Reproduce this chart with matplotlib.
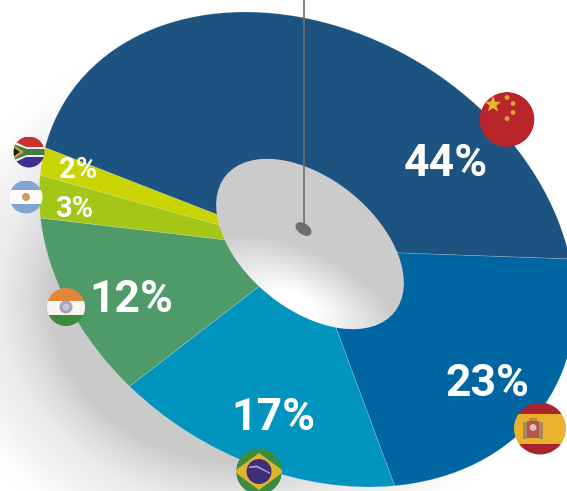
"""Tilted donut-style pie of market share by country, with flag markers."""

import matplotlib

matplotlib.use("Agg")
import matplotlib.pyplot as plt
import numpy as np
from matplotlib.patches import Circle, Ellipse, Polygon, Rectangle
from matplotlib.transforms import Affine2D

WIDTH, HEIGHT = 567, 491

countries = ["Spain", "Brazil", "India", "Argentina", "South Africa", "China"]
shares = [23, 17, 12, 3, 2, 44]
colors = ["#0066a1", "#0094bf", "#4f9a69", "#a3c617", "#c9d400", "#1d5380"]
share_labels = ["23%", "17%", "12%", "3%", "2%", "44%"]

PIE_CENTER = (307, 249.5)
PIE_AXES = (284, 218)
TILT = 31.2
START_ANGLE = -36


def draw_shadow(ax):
    """Soft grey shadow falling to the lower left of the disc."""
    xx, yy = np.meshgrid(np.arange(WIDTH) + 0.5, np.arange(HEIGHT) + 0.5)
    dist = np.hypot((xx - 240) / 250, (yy - 300) / 215)
    grey = np.interp(dist, [0.75, 0.85, 0.96, 1.05, 1.2, 1.3], [0.79, 0.86, 0.92, 0.94, 0.99, 1.0])
    ax.imshow(grey, cmap="gray", vmin=0, vmax=1, extent=(0, WIDTH, HEIGHT, 0),
              aspect="auto", zorder=0)


def draw_hole(ax):
    """Centre ellipse with a white highlight along its lower edge."""
    hole = Ellipse((310, 244), 217, 131, angle=39, facecolor="none", edgecolor="none", zorder=3)
    ax.add_patch(hole)
    xx, yy = np.meshgrid(np.arange(200, 420) + 0.5, np.arange(150, 340) + 0.5)
    turn = np.radians(25)
    along = (xx - 295) * np.cos(turn) + (yy - 305) * np.sin(turn)
    across = (yy - 305) * np.cos(turn) - (xx - 295) * np.sin(turn)
    dist = np.hypot(along / 115, across / 55)
    grey = 1 - 0.2 * np.clip((dist - 0.2) / 0.8, 0, 1)
    image = ax.imshow(grey, cmap="gray", vmin=0, vmax=1, extent=(200, 420, 340, 150),
                      aspect="auto", zorder=3)
    image.set_clip_path(hole)


def flag_parts(ax, center, radius, parts):
    """Add patches clipped to a round flag of the given radius."""
    disc = Circle(center, radius, facecolor="none", edgecolor="none", zorder=6)
    ax.add_patch(disc)
    for part in parts:
        part.set_zorder(6)
        part.set_linewidth(0)
        ax.add_patch(part)
        part.set_clip_path(disc)


def stripes(center, radius, fractions, stripe_colors):
    """Horizontal bands filling a flag from top to bottom."""
    x, y = center
    top = y - radius
    parts = []
    for fraction, color in zip(fractions, stripe_colors):
        height = fraction * 2 * radius
        parts.append(Rectangle((x - radius, top), 2 * radius, height, facecolor=color))
        top += height
    return parts


def star_points(x, y, size):
    angles = np.radians(np.arange(10) * 36 - 90)
    radii = np.where(np.arange(10) % 2 == 0, size, size * 0.42)
    return np.column_stack([x + radii * np.cos(angles), y + radii * np.sin(angles)])


def draw_china(ax):
    x, y, r = 507, 119.5, 27.5
    parts = [Circle((x, y), r, facecolor="#b8252b")]
    parts.append(Polygon(star_points(x - 14, y - 15, 8.5), facecolor="#e6b52e"))
    for dx, dy in [(0, -22), (6, -16), (6, -7), (0, -1)]:
        parts.append(Circle((x + dx, y + dy), 2.4, facecolor="#dfa52f"))
    flag_parts(ax, (x, y), r, parts)


def draw_spain(ax):
    x, y, r = 540, 428.5, 26
    parts = stripes((x, y), r, [0.22, 0.57, 0.21], ["#a8242e", "#e9b12c", "#a8242e"])
    # coat of arms on the hoist side
    parts.append(Rectangle((x - 17, y - 7), 4, 17, facecolor="#a98a5c"))
    parts.append(Rectangle((x - 1, y - 7), 4, 17, facecolor="#a98a5c"))
    parts.append(Rectangle((x - 13, y - 8), 12, 17, facecolor="#b5564c"))
    parts.append(Circle((x - 7, y - 1), 3.5, facecolor="#dcbcb0"))
    parts.append(Rectangle((x - 11, y - 11), 8, 3.5, facecolor="#b9863a"))
    flag_parts(ax, (x, y), r, parts)


def draw_brazil(ax):
    x, y, r = 259, 471.5, 23
    parts = [Circle((x, y), r, facecolor="#3b8c41")]
    parts.append(Polygon([(x, y - 18.5), (x + 25, y), (x, y + 18.5), (x - 25, y)], facecolor="#dfb52e"))
    parts.append(Circle((x, y), 12.5, facecolor="#3f2f7a"))
    parts.append(Polygon([(x - 10, y - 5), (x - 2, y - 6), (x + 11, y + 1), (x + 11, y + 2.5),
                          (x - 2, y - 4), (x - 10, y - 3.5)], facecolor="#a9a6c4"))
    flag_parts(ax, (x, y), r, parts)


def draw_india(ax):
    x, y, r = 66, 307, 19
    parts = stripes((x, y), r, [0.34, 0.38, 0.28], ["#e0873a", "#f7f5f2", "#3d8a3d"])
    parts.append(Circle((x, y), 6.5, facecolor="#a9a0bb"))
    parts.append(Circle((x, y), 3.5, facecolor="#c9c3d4"))
    flag_parts(ax, (x, y), r, parts)


def draw_argentina(ax):
    x, y, r = 26, 197, 16.5
    parts = stripes((x, y), r, [0.28, 0.43, 0.29], ["#7fa5d2", "#fbfbfb", "#7fa5d2"])
    parts.append(Circle((x, y), 4, facecolor="#d19c62"))
    flag_parts(ax, (x, y), r, parts)


def draw_south_africa(ax):
    x, y, r = 29, 152, 15.5
    parts = stripes((x, y), r, [0.5, 0.5], ["#c8322f", "#3f2f8f"])
    parts.append(Polygon([(x - r, y - 11), (x - 3, y - 5), (x + r, y - 5), (x + r, y + 5),
                          (x - 3, y + 5), (x - r, y + 11)], facecolor="#f3f1ea"))
    parts.append(Polygon([(x - r, y - 8), (x - 2, y - 3), (x + r, y - 3), (x + r, y + 3),
                          (x - 2, y + 3), (x - r, y + 8)], facecolor="#3c7f4b"))
    parts.append(Polygon([(x - r, y - 7), (x - 5, y), (x - r, y + 7)], facecolor="#d8a526"))
    parts.append(Polygon([(x - r, y - 4.5), (x - 9, y), (x - r, y + 4.5)], facecolor="#1c1c1c"))
    flag_parts(ax, (x, y), r, parts)


fig = plt.figure(figsize=(WIDTH / 100, HEIGHT / 100), dpi=100)
ax = fig.add_axes([0, 0, 1, 1])

wedges, _ = ax.pie(shares, colors=colors, startangle=START_ANGLE, counterclock=True,
                   wedgeprops={"linewidth": 0.5, "edgecolor": (1, 1, 1, 0.25)})
disc_transform = (
    Affine2D().scale(*PIE_AXES).rotate_deg(TILT).translate(*PIE_CENTER) + ax.transData
)
for wedge in wedges:
    wedge.set_transform(disc_transform)
    wedge.set_zorder(2)

ax.set_aspect("auto")
ax.axis("off")

draw_shadow(ax)
draw_hole(ax)
ax.set_xlim(0, WIDTH)
ax.set_ylim(HEIGHT, 0)

# pin and its hanging wire
ax.plot([304.3, 304.3], [0, 226], color="#706f6a", linewidth=1.2, zorder=4)
ax.add_patch(Ellipse((303.5, 229), 18, 11, angle=35, facecolor="#706f6a", edgecolor="none", zorder=4))

label_positions = [(487, 380), (273, 414), (131, 295), (74, 206), (78, 167), (446, 159)]
label_sizes = [32, 32, 32, 21, 21, 32]
for text, (x, y), size in zip(share_labels, label_positions, label_sizes):
    ax.text(x, y, text, color="white", fontsize=size, fontweight="bold", family="Roboto",
            ha="center", va="center_baseline", zorder=5)

draw_china(ax)
draw_spain(ax)
draw_brazil(ax)
draw_india(ax)
draw_argentina(ax)
draw_south_africa(ax)

fig.savefig("out.png", dpi=100)
